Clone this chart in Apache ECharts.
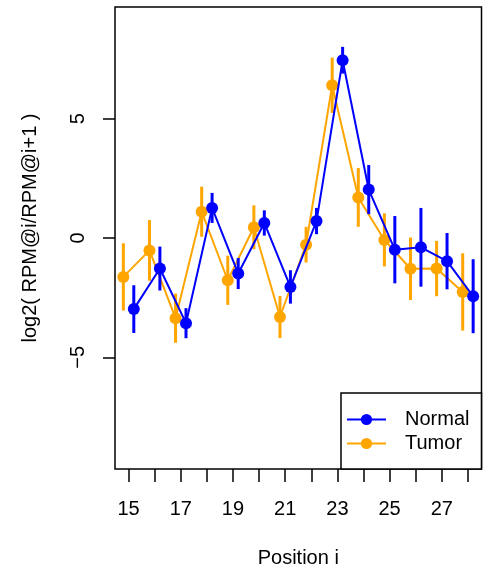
<!DOCTYPE html>
<html>
<head>
<meta charset="utf-8">
<script src="https://cdn.jsdelivr.net/npm/echarts@6/dist/echarts.min.js"></script>
<style>
  html, body { margin: 0; padding: 0; background: #fff; }
  #chart { width: 488px; height: 573px; }
</style>
</head>
<body>
<div id="chart"></div>
<script>
// positions i = 15..28
var positions = [15, 16, 17, 18, 19, 20, 21, 22, 23, 24, 25, 26, 27, 28];
var xTicks = [15, 16, 17, 18, 19, 20, 21, 22, 23, 24, 25, 26, 27, 28];
var xLabels = [15, 17, 19, 21, 23, 25, 27];
var yLabels = [-5, 0, 5];

// log2 ratio means and +/- error (half length of bar)
var normalMean = [-2.98, -1.28, -3.57, 1.26, -1.49, 0.63, -2.05, 0.71, 7.45, 2.03, -0.49, -0.39, -0.97, -2.44];
var normalErr = [1.0, 0.92, 0.63, 0.63, 0.65, 0.53, 0.7, 0.55, 0.56, 1.03, 1.41, 1.65, 1.18, 1.55];
var tumorMean = [-1.63, -0.52, -3.36, 1.1, -1.77, 0.45, -3.31, -0.28, 6.4, 1.7, -0.08, -1.29, -1.28, -2.26];
var tumorErr = [1.41, 1.27, 1.03, 1.05, 1.03, 0.92, 0.88, 0.75, 1.16, 1.23, 1.11, 1.31, 1.16, 1.62];

var dodge = 0.2;
var BLUE = '#0000ff';
var ORANGE = '#ffa500';
var FONT = 'Liberation Sans, Arial, Helvetica, sans-serif';

function pts(mean, shift) {
  return positions.map(function (p, i) { return [p + shift, mean[i]]; });
}
function bars(mean, err, shift) {
  return positions.map(function (p, i) { return [p + shift, mean[i] - err[i], mean[i] + err[i]]; });
}
function errRender(color) {
  return function (params, api) {
    var a = api.coord([api.value(0), api.value(1)]);
    var b = api.coord([api.value(0), api.value(2)]);
    return {
      type: 'line',
      shape: { x1: a[0], y1: a[1], x2: b[0], y2: b[1] },
      style: { stroke: color, lineWidth: 3 }
    };
  };
}

var chart = echarts.init(document.getElementById('chart'));
var option = {
  animation: false,
  backgroundColor: '#fff',
  grid: {
    left: 115, right: 6.5, top: 7, bottom: 104,
    show: true, borderColor: '#000', borderWidth: 1.5
  },
  xAxis: {
    type: 'value',
    min: 14.48, max: 28.52,
    name: 'Position i',
    nameLocation: 'middle',
    nameGap: 79,
    nameTextStyle: { color: '#000', fontSize: 20, fontFamily: FONT },
    axisLine: { show: false, onZero: false },
    splitLine: { show: false },
    axisTick: { show: true, length: 13, customValues: xTicks, lineStyle: { color: '#000', width: 1.5 } },
    axisLabel: { customValues: xLabels, margin: 30, color: '#000', fontSize: 20, fontFamily: FONT }
  },
  yAxis: {
    type: 'value',
    min: -9.68, max: 9.68,
    name: 'log2( RPM@i/RPM@i+1 )',
    nameLocation: 'middle',
    nameRotate: 90,
    nameGap: 75,
    nameTextStyle: { color: '#000', fontSize: 20, fontFamily: FONT, padding: [0, 0, 0, 20] },
    axisLine: { show: false, onZero: false },
    splitLine: { show: false },
    axisTick: { show: true, length: 12, customValues: yLabels, lineStyle: { color: '#000', width: 1.5 } },
    axisLabel: {
      customValues: yLabels, rotate: 90, margin: 27, color: '#000', fontSize: 20, fontFamily: FONT,
      formatter: function (v) { return v < 0 ? '\u2212' + Math.abs(v) : String(v); }
    }
  },
  legend: {
    data: ['Normal', 'Tumor'],
    orient: 'vertical',
    left: 341, top: 393,
    backgroundColor: '#fff',
    borderColor: '#000', borderWidth: 1.5, borderRadius: 0,
    padding: [16.5, 12, 15.5, 5],
    itemGap: 4, itemWidth: 39, itemHeight: 14,
    textStyle: { color: '#000', fontSize: 20, fontFamily: FONT, padding: [0, 0, 0, 14] }
  },
  series: [
    {
      name: 'Tumor', type: 'line', data: pts(tumorMean, -dodge),
      symbol: 'circle', symbolSize: 12, color: ORANGE,
      lineStyle: { color: ORANGE, width: 2 }, itemStyle: { color: ORANGE }, z: 2
    },
    {
      name: 'Tumor err', type: 'custom', data: bars(tumorMean, tumorErr, -dodge),
      encode: { x: 0, y: [1, 2] }, renderItem: errRender(ORANGE), z: 2
    },
    {
      name: 'Normal', type: 'line', data: pts(normalMean, dodge),
      symbol: 'circle', symbolSize: 12, color: BLUE,
      lineStyle: { color: BLUE, width: 2 }, itemStyle: { color: BLUE }, z: 3
    },
    {
      name: 'Normal err', type: 'custom', data: bars(normalMean, normalErr, dodge),
      encode: { x: 0, y: [1, 2] }, renderItem: errRender(BLUE), z: 3
    }
  ]
};
chart.setOption(option);
</script>
</body>
</html>
